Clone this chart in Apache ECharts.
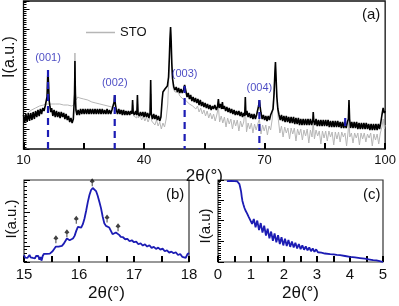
<!DOCTYPE html>
<html><head><meta charset="utf-8">
<script src="https://cdn.jsdelivr.net/npm/echarts@6/dist/echarts.min.js"></script>
<style>html,body{margin:0;padding:0;background:#fff}#c{width:399px;height:306px}</style>
</head><body><div id="c"></div>
<script>
// Panel (a): 2theta (deg) vs log intensity (a.u., 20 units per decade)
const stoA = [[10,32],[11,36],[12,39],[13,41],[14,43],[15,44],[16,45],[17,45],[18,45],[19,45],[20,44],[21,44],[22,43],[22.5,44],[22.7,70],[22.8,96],[22.9,70],[23.1,49],[23.5,52],[24,51],[25,50],[26,49],[27,47],[28,46],[29,45],[30,44],[31,43],[32,42],[33,40],[34,39],[35,38],[35.5,35],[36,37],[36.5,34],[37,36],[37.2,44],[37.4,33],[37.8,35],[38.2,31],[38.4,45],[38.6,31],[39,34],[39.4,29],[39.8,33],[40.2,28],[40.6,32],[41,27],[41.4,31],[41.7,55],[41.9,28],[42.3,30],[42.7,24],[43.1,29],[43.5,23],[43.9,27],[44.3,20],[44.7,26],[45.1,22],[45.5,30],[45.9,45],[46.2,75],[46.4,100],[46.6,119],[46.8,100],[47.0,75],[47.3,60],[47.7,57],[48.1,55],[48.5,57],[48.9,53],[49.3,54],[49.7,50],[50.1,52],[50.5,48],[50.9,49],[51.3,45],[51.7,47],[52.1,43],[52.5,45],[52.9,40],[53.3,43],[53.7,37],[54.1,41],[54.5,35],[54.9,39],[55.3,33],[55.7,38],[56.1,31],[56.5,36],[56.9,30],[57.3,35],[57.7,28],[58.1,34],[58.5,42],[58.8,27],[59.2,33],[59.6,26],[60,32],[60.4,22],[60.8,31],[61.2,25],[61.6,30],[62,20],[62.4,29],[62.8,23],[63.2,29],[63.6,18],[64,28],[64.4,22],[64.8,27],[65.2,42],[65.5,17],[65.9,26],[66.3,20],[66.7,26],[67.1,16],[67.5,25],[67.9,19],[68.3,25],[68.7,30],[69.1,15],[69.5,24],[69.9,18],[70.3,24],[70.7,14],[71.1,23],[71.5,19],[71.9,30],[72.3,55],[72.55,74],[72.7,84],[72.85,70],[73.1,48],[73.4,30],[73.8,16],[74.2,23],[74.6,12],[75,22],[75.4,16],[75.8,21],[76.2,10],[76.6,21],[77,15],[77.4,21],[77.8,8],[78.2,20],[78.6,14],[79,20],[79.4,9],[79.8,19],[80.2,13],[80.6,20],[81,6],[81.4,19],[81.8,12],[82.1,27],[82.4,10],[82.8,19],[83.2,13],[83.6,18],[84,5],[84.4,18],[84.8,11],[85.2,18],[85.6,8],[86,18],[86.4,12],[86.8,17],[87.2,4],[87.6,17],[88,10],[88.4,17],[88.8,7],[89.2,17],[89.6,12],[90,16],[90.4,3],[90.8,18],[91,35],[91.2,12],[91.6,16],[92,6],[92.4,16],[92.8,11],[93.2,16],[93.6,4],[94,16],[94.4,10],[94.8,16],[95.2,7],[95.6,15],[96,11],[96.4,16],[96.8,3],[97.2,15],[97.6,9],[98,15],[98.4,5],[98.8,16],[99.2,22],[99.5,30],[99.8,20],[100,24]];

const filmA = [[10,34],[10.3,26],[10.6,35],[10.9,27],[11.2,36],[11.5,28],[11.8,36],[12.1,29],[12.4,37],[12.7,30],[13,38],[13.3,32],[13.6,39],[13.9,33],[14.2,40],[14.5,35],[14.8,41],[15.1,38],[15.4,43],[15.6,44],[15.85,52],[16.0,70],[16.1,79],[16.2,68],[16.4,48],[16.6,42],[16.8,37],[17,41],[17.3,33],[17.6,39],[17.9,32],[18.2,38],[18.5,32],[18.8,37],[19.1,31],[19.4,37],[19.7,32],[20,36],[20.3,30],[20.6,35],[20.9,29],[21.2,33],[21.5,27],[21.8,31],[22.1,26],[22.4,30],[22.6,29],[22.72,55],[22.8,88],[22.9,55],[23.05,39],[23.3,34],[23.6,39],[23.9,34],[24.2,40],[24.5,35],[24.8,40],[25.1,35],[25.4,40],[25.7,35],[26,40],[26.3,35],[26.6,40],[26.9,35],[27.2,40],[27.5,35],[27.8,40],[28.1,35],[28.4,40],[28.7,35],[29,40],[29.3,35],[29.6,40],[29.9,35],[30.2,39],[30.5,35],[30.8,40],[31.1,35],[31.4,39],[31.7,35],[32,39],[32.3,40],[32.55,47],[32.7,54],[32.85,45],[33.1,39],[33.4,35],[33.7,40],[34,35],[34.3,39],[34.6,34],[34.9,39],[35.2,34],[35.5,38],[35.8,34],[36.1,38],[36.4,34],[36.7,38],[37,35],[37.15,49],[37.3,37],[37.6,34],[37.9,38],[38.2,34],[38.35,54],[38.5,36],[38.8,33],[39.1,37],[39.4,33],[39.7,37],[40,32],[40.3,37],[40.6,32],[40.9,36],[41.2,31],[41.5,36],[41.65,69],[41.8,35],[42.1,30],[42.4,35],[42.7,30],[43,34],[43.3,29],[43.6,33],[43.9,28],[44.2,32],[44.35,30],[44.5,49],[44.7,57],[44.9,55],[45.2,60],[45.5,58],[45.8,63],[46.1,72],[46.3,92],[46.45,110],[46.6,122],[46.75,108],[46.9,86],[47.1,70],[47.4,62],[47.7,59],[48,62],[48.3,57],[48.6,61],[48.9,56],[49.2,60],[49.5,56],[49.8,59],[50.1,64],[50.4,58],[50.7,52],[51,56],[51.3,50],[51.6,54],[51.9,48],[52.2,52],[52.5,47],[52.8,51],[53.1,46],[53.4,50],[53.7,44],[54,49],[54.3,43],[54.6,47],[54.9,42],[55.2,46],[55.5,41],[55.8,45],[56.1,40],[56.4,44],[56.7,39],[57,43],[57.3,40],[57.6,44],[58,39],[58.3,43],[58.5,50],[58.7,41],[59,45],[59.3,40],[59.5,47],[59.7,40],[60,43],[60.3,38],[60.6,42],[60.9,37],[61.2,41],[61.5,36],[61.8,40],[62.1,35],[62.4,39],[62.7,34],[63,38],[63.3,34],[63.6,38],[63.9,33],[64.2,37],[64.5,32],[64.8,36],[65.05,33],[65.2,52],[65.35,34],[65.6,38],[65.9,32],[66.2,36],[66.5,31],[66.8,35],[67.1,30],[67.4,35],[67.7,30],[68,34],[68.3,36],[68.5,43],[68.7,49],[68.9,42],[69.1,36],[69.4,30],[69.7,34],[70,29],[70.3,33],[70.6,28],[70.9,33],[71.2,29],[71.5,34],[71.8,33],[72.1,40],[72.35,55],[72.55,75],[72.7,87],[72.85,72],[73.05,52],[73.3,40],[73.6,34],[73.9,29],[74.2,34],[74.5,28],[74.8,33],[75.1,27],[75.4,33],[75.7,27],[76,32],[76.3,26],[76.6,32],[76.9,26],[77.2,32],[77.5,25],[77.8,31],[78.1,25],[78.4,31],[78.7,24],[79,30],[79.3,24],[79.6,30],[79.9,24],[80.2,30],[80.5,24],[80.8,30],[81.1,24],[81.4,30],[81.7,24],[82.0,29],[82.1,37],[82.25,28],[82.5,24],[82.8,30],[83.1,23],[83.4,29],[83.7,23],[84,29],[84.3,23],[84.6,29],[84.9,23],[85.2,29],[85.5,23],[85.8,29],[86.1,22],[86.4,28],[86.7,22],[87,28],[87.3,22],[87.6,28],[87.9,22],[88.2,28],[88.5,22],[88.8,27],[89.1,21],[89.4,27],[89.7,21],[90,27],[90.3,21],[90.6,27],[90.85,30],[91,49],[91.15,30],[91.4,21],[91.7,27],[92,21],[92.3,27],[92.6,21],[92.9,27],[93.2,20],[93.5,26],[93.8,20],[94.1,26],[94.4,20],[94.7,26],[95,20],[95.3,26],[95.6,20],[95.9,25],[96.2,19],[96.5,25],[96.8,19],[97.1,25],[97.4,19],[97.7,25],[98,19],[98.3,25],[98.6,20],[98.9,26],[99.2,34],[99.5,41],[99.8,36],[100,38]];

const hklPos = [16.1, 32.7, 50.1, 68.7];
const hklTop = [79, 54, 63, 49];
const hklLabels = ['(001)', '(002)', '(003)', '(004)'];
const strayDash = [[90.06, 31], [90.06, 23]];

// Panel (b): scan around (001), log intensity in decades
const scanB = [[15.0,-0.27],[15.02,-0.35],[15.04,-0.30],[15.06,-0.36],[15.08,-0.31],[15.1,-0.27],[15.12,-0.34],[15.14,-0.29],[15.16,-0.36],[15.18,-0.31],[15.2,-0.37],[15.22,-0.30],[15.24,-0.35],[15.26,-0.30],[15.28,-0.41],[15.3,-0.33],[15.32,-0.44],[15.34,-0.30],[15.36,-0.24],[15.38,-0.21],[15.41,-0.24],[15.44,-0.20],[15.47,-0.23],[15.49,-0.18],[15.52,-0.16],[15.55,-0.12],[15.58,-0.02],[15.6,0.03],[15.63,-0.02],[15.66,-0.06],[15.69,0.0],[15.72,0.06],[15.75,0.1],[15.78,0.22],[15.8,0.24],[15.83,0.17],[15.86,0.16],[15.89,0.22],[15.92,0.3],[15.95,0.45],[15.98,0.57],[16.01,0.56],[16.04,0.55],[16.07,0.65],[16.1,0.82],[16.13,1.05],[16.16,1.31],[16.19,1.52],[16.22,1.67],[16.25,1.73],[16.28,1.72],[16.31,1.64],[16.34,1.5],[16.37,1.32],[16.4,1.13],[16.43,0.88],[16.46,0.68],[16.49,0.6],[16.52,0.59],[16.55,0.55],[16.58,0.45],[16.61,0.35],[16.64,0.33],[16.67,0.4],[16.7,0.42],[16.73,0.33],[16.76,0.27],[16.8,0.26],[16.84,0.2],[16.88,0.21],[16.92,0.14],[16.96,0.17],[17.0,0.11],[17.04,0.13],[17.08,0.05],[17.12,0.08],[17.16,0.01],[17.2,0.05],[17.24,-0.02],[17.28,0.02],[17.32,-0.06],[17.36,-0.03],[17.4,-0.09],[17.44,-0.05],[17.48,-0.11],[17.52,-0.08],[17.56,-0.16],[17.6,-0.13],[17.64,-0.2],[17.68,-0.17],[17.72,-0.22],[17.76,-0.19],[17.8,-0.27],[17.84,-0.24],[17.88,-0.33],[17.91,-0.3],[17.94,-0.36],[17.97,-0.25],[18.0,-0.21]];
const markB = [[15.58,0.2],[15.78,0.38],[15.95,0.78],[16.24,1.9],[16.51,0.82],[16.71,0.56]];

// Panel (c): reflectivity, log intensity in decades
const xrrC = [[0.27,3.91],[0.4,3.92],[0.5,3.91],[0.58,3.9],[0.62,3.86],[0.65,3.76],[0.68,3.55],[0.7,3.4],[0.72,3.15],[0.74,2.95],[0.77,2.78],[0.8,2.62],[0.83,2.5],[0.86,2.42],[0.88,2.35],[0.9,2.3],[0.93,2.18],[0.95,2.15],[0.98,2.12],[1.033,1.84],[1.085,2.08],[1.138,1.68],[1.19,2.0],[1.243,1.54],[1.295,1.88],[1.348,1.42],[1.40,1.75],[1.453,1.28],[1.505,1.61],[1.558,1.14],[1.61,1.47],[1.663,1.02],[1.715,1.38],[1.768,0.95],[1.82,1.29],[1.873,0.87],[1.925,1.2],[1.978,0.8],[2.03,1.13],[2.083,0.77],[2.135,1.06],[2.188,0.73],[2.24,0.99],[2.293,0.70],[2.345,0.93],[2.398,0.65],[2.45,0.87],[2.503,0.62],[2.555,0.80],[2.608,0.59],[2.66,0.75],[2.713,0.56],[2.765,0.70],[2.818,0.52],[2.87,0.65],[2.923,0.49],[2.975,0.61],[3.028,0.47],[3.08,0.56],[3.133,0.45],[3.185,0.51],[3.24,0.41],[3.3,0.43],[3.4,0.38],[3.45,0.41],[3.5,0.37],[3.6,0.34],[3.7,0.33],[3.75,0.30],[3.85,0.29],[3.9,0.26],[4.0,0.25],[4.05,0.22],[4.15,0.22],[4.2,0.19],[4.3,0.19],[4.35,0.16],[4.45,0.16],[4.5,0.13],[4.6,0.12],[4.7,0.09],[4.8,0.08],[4.9,0.04],[4.95,0.03],[5.0,0.0]];

const FONT = 'Liberation Sans, Arial, sans-serif';
const BLUE = '#1c1cb4';
const chart = echarts.init(document.getElementById('c'), null, {renderer: 'canvas'});

function xAx(gi, min, max, interval, step, fs, nameGap, margin) {
  return {
    type: 'value', gridIndex: gi, min: min, max: max, interval: interval,
    name: '2θ(°)', nameLocation: 'middle', nameGap: nameGap,
    nameTextStyle: {fontFamily: FONT, fontSize: 17, color: '#111'},
    axisLine: {show: false, onZero: false},
    axisTick: {show: true, inside: true, length: 6, lineStyle: {color: '#000', width: 2}},
    axisLabel: {fontFamily: FONT, fontSize: fs, color: '#111', margin: margin,
      formatter: v => (Math.abs(((v - min) / step) - Math.round((v - min) / step)) < 1e-6) ? String(Math.round(v * 100) / 100) : ''},
    splitLine: {show: false}
  };
}
// tick-only twin axes (same scale, no labels), to make sure the inside bottom ticks are drawn
function tickAx(gi, min, max, interval) {
  return {
    type: 'value', gridIndex: gi, min: min, max: max, interval: interval, position: 'bottom',
    axisLine: {show: false, onZero: false},
    axisTick: {show: true, inside: true, length: 6, lineStyle: {color: '#000', width: 2}},
    axisLabel: {show: false}, splitLine: {show: false}
  };
}
function yAx(gi, opts) {
  return Object.assign({
    type: 'value', gridIndex: gi,
    axisLine: {show: false, onZero: false},
    axisTick: {show: true, inside: true, length: 6, lineStyle: {color: '#000', width: 1}},
    minorTick: {show: true, splitNumber: 9, length: 3, lineStyle: {color: '#000', width: 1}},
    axisLabel: {show: false},
    splitLine: {show: false}, minorSplitLine: {show: false}
  }, opts);
}
function vText(x, y, text, size) {
  return {type: 'text', x: x, y: y, rotation: Math.PI / 2,
    style: {text: text, font: size + 'px Liberation Sans, Arial, sans-serif', fill: '#111', align: 'center', verticalAlign: 'middle'}};
}

const option = {
  animation: false,
  backgroundColor: '#fff',
  grid: [
    {left: 23.5, top: 1, width: 362.5, height: 148, show: true, borderColor: '#111', borderWidth: 1.3, backgroundColor: 'transparent'},
    {left: 24, top: 180, width: 165, height: 82, show: true, borderColor: '#333', borderWidth: 1.2, backgroundColor: 'transparent'},
    {left: 218, top: 180, width: 165, height: 82, show: true, borderColor: '#333', borderWidth: 1.2, backgroundColor: 'transparent'}
  ],
  xAxis: [
    xAx(0, 10, 100, 15, 30, 13, 5, 5),
    xAx(1, 15, 18, 0.5, 1, 15, 23, 5),
    xAx(2, 0, 5, 0.5, 1, 15, 23, 5),
    tickAx(0, 10, 100, 15),
    tickAx(1, 15, 18, 0.5),
    tickAx(2, 0, 5, 0.5)
  ],
  yAxis: [
    yAx(0, {min: 0, max: 148, interval: 20}),
    yAx(1, {min: -0.48, max: 1.97, splitNumber: 3}),
    yAx(2, {min: 0, max: 3.96, interval: 1})
  ],
  legend: {
    data: [{name: 'STO', icon: 'rect'}], left: 81, top: 21, itemWidth: 29, itemHeight: 1.5, itemGap: 3,
    textStyle: {fontFamily: FONT, fontSize: 13, color: '#111'}, selectedMode: false
  },
  graphic: [
    {type: 'text', left: 362, top: 7, style: {text: '(a)', font: '15px Liberation Sans, Arial, sans-serif', fill: '#111'}},
    {type: 'text', left: 166, top: 187, style: {text: '(b)', font: '15px Liberation Sans, Arial, sans-serif', fill: '#111'}},
    {type: 'text', left: 363, top: 187, style: {text: '(c)', font: '15px Liberation Sans, Arial, sans-serif', fill: '#111'}},
    vText(10, 57, 'I(a.u.)', 16),
    vText(12, 219, 'I(a.u.)', 15),
    vText(206, 226, 'I(a.u)', 15)
  ],
  series: [
    {name: 'STO', type: 'line', xAxisIndex: 0, yAxisIndex: 0, data: stoA, symbol: 'none',
      lineStyle: {color: '#b6b6b6', width: 1}, itemStyle: {color: '#b6b6b6'}, z: 2},
    {name: 'film', type: 'line', xAxisIndex: 0, yAxisIndex: 0, data: filmA, symbol: 'none',
      lineStyle: {color: '#000', width: 1.6}, itemStyle: {color: '#000'}, z: 3}
  ].concat(hklPos.map((p, i) => ({
      name: 'hkl' + i, type: 'line', xAxisIndex: 0, yAxisIndex: 0, symbol: 'none', z: 4,
      data: [[p, hklTop[i]], [p, 0]],
      lineStyle: {color: BLUE, width: 2.2, type: [7, 5]}
    }))).concat([
    {name: 'hklLabels', type: 'scatter', xAxisIndex: 0, yAxisIndex: 0, z: 5,
      data: hklPos.map((p, i) => [p, hklTop[i]]), symbolSize: 1, itemStyle: {color: 'rgba(0,0,0,0)'},
      label: {show: true, position: 'top', distance: 6, color: BLUE, fontFamily: FONT, fontSize: 11,
        formatter: pr => hklLabels[pr.dataIndex]}},
    {name: 'stray', type: 'line', xAxisIndex: 0, yAxisIndex: 0, symbol: 'none', z: 4, data: strayDash,
      lineStyle: {color: BLUE, width: 2.2}},
    {name: 'scanB', type: 'line', xAxisIndex: 1, yAxisIndex: 1, data: scanB, symbol: 'none',
      lineStyle: {color: BLUE, width: 1.8}},
    {name: 'markB', type: 'scatter', xAxisIndex: 1, yAxisIndex: 1, data: markB,
      symbol: 'path://M5,0 L10,4.5 L6,6.5 L6,11 L4,11 L4,6.5 L0,4.5 Z', symbolSize: [5, 8],
      itemStyle: {color: '#111'}},
    {name: 'xrrC', type: 'line', xAxisIndex: 2, yAxisIndex: 2, data: xrrC, symbol: 'none',
      lineStyle: {color: BLUE, width: 1.8}}
  ])
};
chart.setOption(option);
</script></body></html>
